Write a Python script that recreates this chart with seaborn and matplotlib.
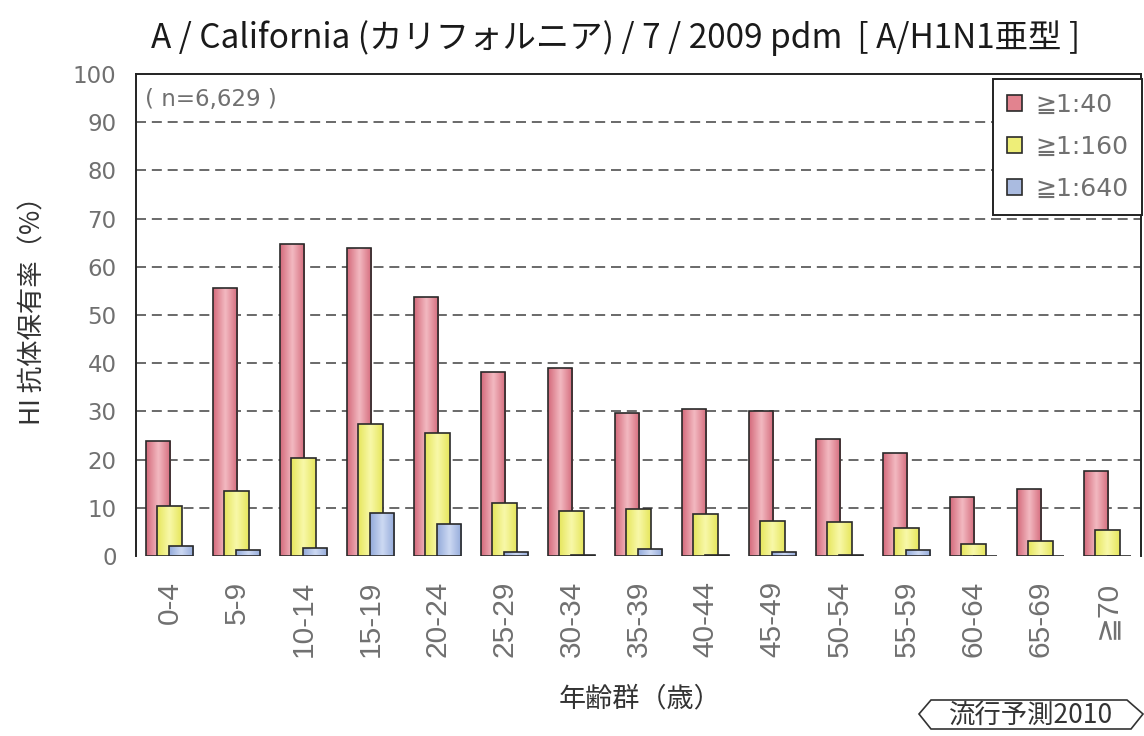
import matplotlib
matplotlib.use("Agg")
import matplotlib.pyplot as plt
from matplotlib.patches import Patch, Polygon
from matplotlib.colors import LinearSegmentedColormap
from matplotlib.ticker import FixedLocator
import numpy as np
import pandas as pd
import seaborn as sns

# Age groups and HI antibody prevalence (%) by titer threshold
ages = ["0-4", "5-9", "10-14", "15-19", "20-24", "25-29", "30-34", "35-39",
        "40-44", "45-49", "50-54", "55-59", "60-64", "65-69", "≧70"]
ge40 = [23.8, 55.5, 64.7, 63.8, 53.8, 38.2, 39.0, 29.6, 30.6, 30.1, 24.3, 21.4, 12.2, 13.8, 17.7]
ge160 = [10.4, 13.5, 20.3, 27.3, 25.6, 10.9, 9.3, 9.7, 8.7, 7.3, 7.1, 5.9, 2.4, 3.1, 5.4]
ge640 = [2.1, 1.2, 1.6, 9.0, 6.6, 0.9, 0.2, 1.4, 0.2, 0.9, 0.3, 1.2, 0.0, 0.0, 0.0]
series_names = ["≧1:40", "≧1:160", "≧1:640"]
y_ticks = [0, 10, 20, 30, 40, 50, 60, 70, 80, 90, 100]

colors = ["#E2838F", "#EEEE78", "#AABBE0"]
# edge / centre tones for the shaded bar faces
shades = [("#D46A7B", "#F2B8C0"), ("#E6E65C", "#F8F8A8"), ("#93A9DA", "#CCD9F2")]
edge = "#2a2a2a"
grey = "#707070"

df = pd.DataFrame({
    "age": ages * 3,
    "value": ge40 + ge160 + ge640,
    "titer": [series_names[0]] * len(ages) + [series_names[1]] * len(ages) + [series_names[2]] * len(ages),
})

sns.set_theme(style="white")
plt.rcParams["font.family"] = ["DejaVu Sans", "Noto Sans CJK JP"]

fig = plt.figure(figsize=(11.44, 7.36), dpi=100)
ax = fig.add_axes([136 / 1144, 1 - 556 / 736, (1141 - 136) / 1144, (556 - 74) / 736])

sns.barplot(data=df, x="age", y="value", hue="titer", order=ages, hue_order=series_names,
            palette=colors, width=0.525, dodge=True, errorbar=None,
            edgecolor=edge, linewidth=1.2, saturation=1, ax=ax, zorder=3)

ax.set_xlim(-0.5, len(ages) - 0.5)
ax.set_ylim(0, 100)

# Overlapping bars: widen each dodged bar around its own centre, then shade its face
bar_w = 0.36
grad = np.concatenate([np.linspace(0, 1, 32), np.linspace(1, 0, 32)]).reshape(1, -1)
for si, cont in enumerate(ax.containers):
    cmap = LinearSegmentedColormap.from_list(f"shade{si}", list(shades[si]))
    for bi, p in enumerate(cont):
        cx = p.get_x() + p.get_width() / 2
        p.set_x(cx - bar_w / 2)
        p.set_width(bar_w)
        z = 3 + si * 0.1 + bi * 0.001
        p.set_zorder(z)
        h = p.get_height()
        if h > 0.05:
            p.set_facecolor("none")
            im = ax.imshow(grad, cmap=cmap, aspect="auto", interpolation="bicubic",
                           extent=[cx - bar_w / 2, cx + bar_w / 2, 0, h], zorder=z - 0.0005)
            im.set_clip_path(p)

ax.set_xlim(-0.5, len(ages) - 0.5)
ax.set_ylim(0, 100)
ax.set_aspect("auto")
ax.set_xlabel("")
ax.set_ylabel("")

# Dashed horizontal grid at the inner ticks only
ax.set_yticks(y_ticks)
for v in y_ticks[1:-1]:
    ax.axhline(v, color="#505050", lw=1.2, ls=(0, (6, 3.5)), zorder=1)

ax.tick_params(axis="y", length=0, pad=14, labelsize=16.5, labelcolor=grey)
ax.tick_params(axis="x", which="major", length=0, pad=18, labelcolor=grey, labelrotation=90)
for lab in ax.get_xticklabels():
    lab.set_fontfamily(["Liberation Sans", "DejaVu Sans"])
    lab.set_fontsize(21.5)
ax.xaxis.set_minor_locator(FixedLocator(np.arange(0.5, len(ages) - 1, 1.0)))
ax.tick_params(axis="x", which="minor", length=6, width=1.1, color="#222222", direction="out")

for side in ["left", "top", "right"]:
    ax.spines[side].set_visible(True)
    ax.spines[side].set_color("#222222")
    ax.spines[side].set_linewidth(1.4)
ax.spines["bottom"].set_visible(False)

ax.text(0.009, 0.948, "( n=6,629 )", transform=ax.transAxes, fontsize=16.5, color=grey,
        ha="left", va="center")

ax.get_legend().remove()
handles = [Patch(facecolor=c, edgecolor=edge, linewidth=1.2) for c in colors]
leg = fig.legend(handles, series_names, loc="upper left",
                 bbox_to_anchor=(993 / 1144, 1 - 79 / 736), bbox_transform=fig.transFigure,
                 borderaxespad=0, fontsize=18, handlelength=0.6, handleheight=0.6,
                 handletextpad=0.55, labelspacing=0.72, borderpad=0.55,
                 frameon=True, fancybox=False, labelcolor=grey)
leg.get_frame().set_edgecolor("#222222")
leg.get_frame().set_linewidth(1.4)
leg.get_frame().set_facecolor("white")
leg.get_frame().set_alpha(1)

fig.text(616 / 1144, 1 - 38 / 736,
         "A / California (カリフォルニア) / 7 / 2009 pdm  [ A/H1N1亜型 ]",
         ha="center", va="center", fontsize=24, color="#1a1a1a",
         family=["Noto Sans CJK JP", "DejaVu Sans"])
fig.text(33 / 1144, 1 - 304 / 736, "HI 抗体保有率（%）", rotation=90, ha="center", va="center",
         fontsize=19, color="#333333", family=["Noto Sans CJK JP", "DejaVu Sans"])
fig.text(640 / 1144, 1 - 699 / 736, "年齢群（歳）", ha="center", va="center",
         fontsize=19.5, color="#333333", family=["Noto Sans CJK JP", "DejaVu Sans"])

# Source stamp in a pointed frame
pts = np.array([(919, 714), (931, 700), (1127, 700), (1143, 714), (1131, 729), (931, 729)], float)
pts[:, 0] /= 1144
pts[:, 1] = 1 - pts[:, 1] / 736
fig.patches.append(Polygon(pts, closed=True, fill=False, edgecolor="#333333", lw=1.2,
                           transform=fig.transFigure))
fig.text(1031 / 1144, 1 - 715 / 736, "流行予測2010", ha="center", va="center",
         fontsize=19, color="#333333", style="italic", family=["Noto Sans CJK JP", "DejaVu Sans"])

fig.savefig("out.png", dpi=100)
